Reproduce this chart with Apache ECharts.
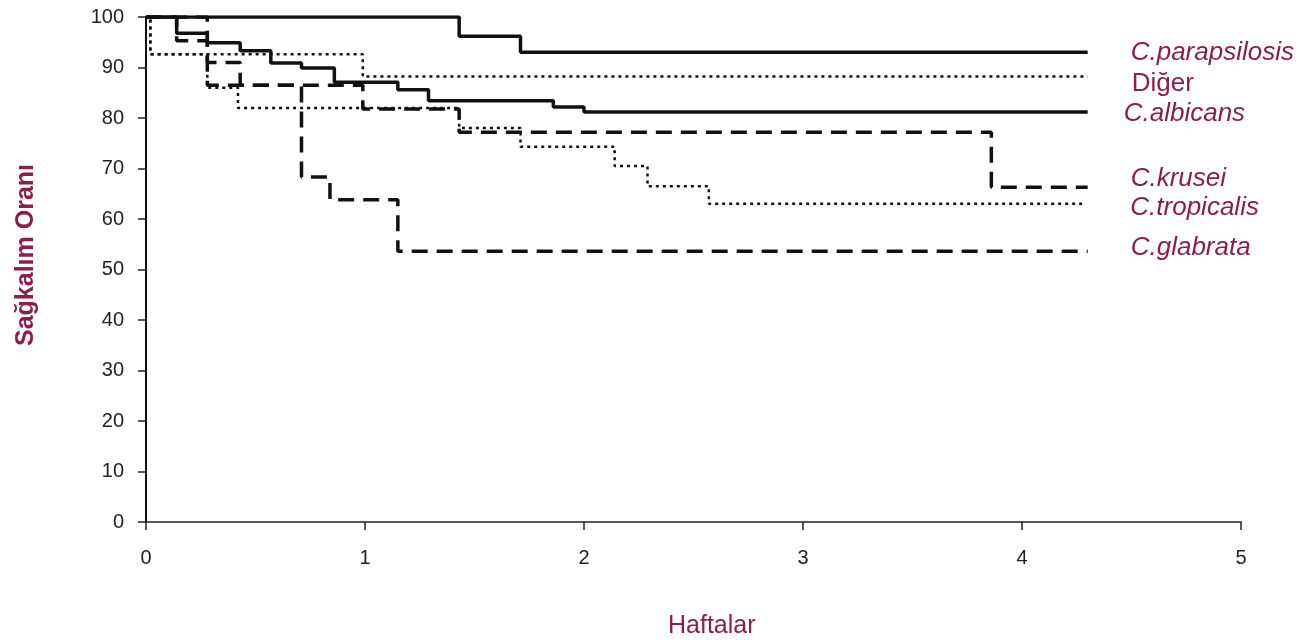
<!DOCTYPE html>
<html>
<head>
<meta charset="utf-8">
<script src="https://cdn.jsdelivr.net/npm/echarts@6/dist/echarts.min.js"></script>
<style>
  html, body { margin: 0; padding: 0; background: #fff; }
  #main { width: 1301px; height: 641px; }
</style>
</head>
<body>
<div id="main"></div>
<script>
// Kaplan-Meier survival, weeks vs survival (%)
var parapsilosisWeeks = [0, 1.43, 1.71, 4.3];
var parapsilosisSurv  = [100, 96.2, 93.0, 93.0];

var digerWeeks = [0, 0.02, 0.99, 4.3];
var digerSurv  = [100, 92.6, 88.2, 88.2];

var albicansWeeks = [0, 0.14, 0.28, 0.43, 0.57, 0.71, 0.86, 1.15, 1.29, 1.86, 2.0, 4.3];
var albicansSurv  = [100, 96.8, 94.9, 93.3, 90.9, 89.9, 87.1, 85.6, 83.4, 82.2, 81.2, 81.2];

var kruseiWeeks = [0, 0.14, 0.28, 0.99, 1.43, 3.86, 4.3];
var kruseiSurv  = [100, 95.3, 86.5, 81.8, 77.2, 66.3, 66.3];

var tropicalisWeeks = [0, 0.02, 0.28, 0.42, 1.43, 1.71, 2.14, 2.29, 2.57, 4.28];
var tropicalisSurv  = [100, 92.6, 86.0, 82.0, 78.0, 74.3, 70.5, 66.5, 63.0, 63.0];

var glabrataWeeks = [0, 0.28, 0.43, 0.71, 0.84, 1.15, 4.3];
var glabrataSurv  = [100, 91.0, 86.5, 68.3, 63.8, 53.6, 53.6];

var xTicks = [0, 1, 2, 3, 4, 5];
var yTicks = [0, 10, 20, 30, 40, 50, 60, 70, 80, 90, 100];

var red = '#8c1d4e';
var font = '"Liberation Sans", Arial, sans-serif';

function pairs(xs, ys) {
  return xs.map(function (x, i) { return [x, ys[i]]; });
}

function km(name, xs, ys, type, width, italic, off) {
  return {
    name: name,
    type: 'line',
    step: 'end',
    symbol: 'none',
    data: pairs(xs, ys),
    lineStyle: { color: '#111', width: width, type: type, cap: 'butt' },
    endLabel: {
      show: true,
      formatter: name,
      offset: off,
      color: red,
      fontFamily: font,
      fontSize: 26,
      fontStyle: italic ? 'italic' : 'normal'
    },
    z: 3
  };
}

var dash = [16, 9];
var dot = [3, 4];

var myChart = echarts.init(document.getElementById('main'));
option = {
  animation: false,
  backgroundColor: '#fff',
  grid: { left: 146, right: 60, top: 17, bottom: 119 },
  xAxis: {
    type: 'value',
    min: 0, max: 5, interval: 1,
    axisLine: { show: true, lineStyle: { color: '#222', width: 1.5 } },
    axisTick: { show: true, length: 8, lineStyle: { color: '#222', width: 1.5 } },
    axisLabel: {
      margin: 26, color: '#222', fontSize: 20, fontFamily: font,
      formatter: function (v) { return xTicks.indexOf(v) >= 0 ? String(v) : ''; }
    },
    splitLine: { show: false }
  },
  yAxis: {
    type: 'value',
    min: 0, max: 100, interval: 10,
    axisLine: { show: true, lineStyle: { color: '#111', width: 2 } },
    axisTick: { show: true, length: 8, lineStyle: { color: '#222', width: 1.5 } },
    axisLabel: {
      margin: 22, color: '#222', fontSize: 20, fontFamily: font,
      formatter: function (v) { return yTicks.indexOf(v) >= 0 ? String(v) : ''; }
    },
    splitLine: { show: false }
  },
  graphic: [
    {
      type: 'text', left: 668, top: 614,
      style: { text: 'Haftalar', fill: red, font: '25px ' + font }
    },
    {
      type: 'text', x: 26, y: 255, rotation: Math.PI / 2,
      style: {
        text: 'Sağkalım Oranı', fill: red, font: 'bold 25px ' + font,
        textAlign: 'center', textVerticalAlign: 'middle'
      }
    }
  ],
  series: [
    km('C.parapsilosis', parapsilosisWeeks, parapsilosisSurv, 'solid', 3.5, true, [35, 0]),
    km('Diğer', digerWeeks, digerSurv, dot, 2.5, false, [36, 7]),
    km('C.albicans', albicansWeeks, albicansSurv, 'solid', 3.5, true, [28, 2]),
    km('C.krusei', kruseiWeeks, kruseiSurv, dash, 3.5, true, [35, -8]),
    km('C.tropicalis', tropicalisWeeks, tropicalisSurv, dot, 2.5, true, [39, 4]),
    km('C.glabrata', glabrataWeeks, glabrataSurv, dash, 3.5, true, [35, -4])
  ]
};

if (option && typeof option === "object") {
  myChart.setOption(option, true);
}
</script>
</body>
</html>
